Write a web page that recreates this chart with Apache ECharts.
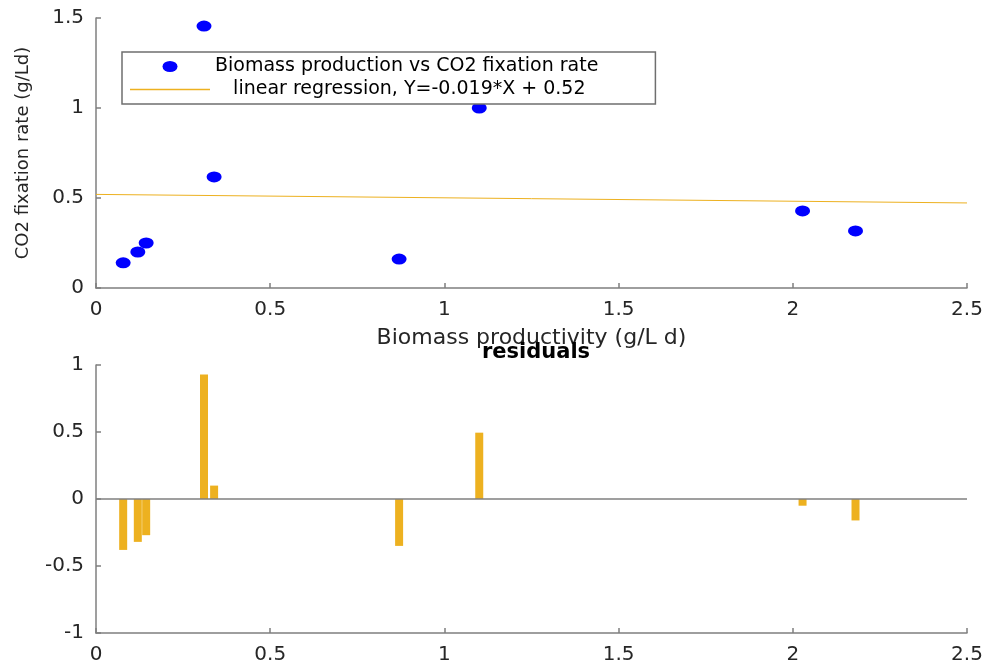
<!DOCTYPE html>
<html>
<head>
<meta charset="utf-8">
<script src="https://cdn.jsdelivr.net/npm/echarts@6/dist/echarts.min.js"></script>
<style>
  html, body { margin: 0; padding: 0; background: #fff; }
  #main { width: 988px; height: 665px; }
</style>
</head>
<body>
<div id="main"></div>
<script>
// data
const biomass = [0.078, 0.12, 0.144, 0.31, 0.339, 0.87, 1.10, 2.028, 2.18];
const co2Rate = [0.14, 0.20, 0.25, 1.455, 0.617, 0.161, 1.00, 0.428, 0.317];
const residuals = [-0.38, -0.32, -0.27, 0.93, 0.10, -0.35, 0.495, -0.05, -0.16];
const fitX = [0, 2.5];
const fitY = [0.52, 0.4725];

const scatterName = 'Biomass production vs CO2 fixation rate';
const lineName = 'linear regression, Y=-0.019*X + 0.52';

const axisGray = '#7f7f7f';
const textColor = '#262626';
const font = 'DejaVu Sans';
const yellow = '#EDB120';

function valueAxis(gridIndex, min, max, interval, extra) {
    return Object.assign({
        type: 'value',
        gridIndex: gridIndex,
        min: min,
        max: max,
        interval: interval,
        axisLine: { show: true, onZero: false, lineStyle: { color: axisGray, width: 1.5 } },
        axisTick: { show: true, inside: true, length: 5, lineStyle: { color: axisGray, width: 1.5 } },
        axisLabel: { color: textColor, fontFamily: font, fontSize: 20, margin: 12 },
        splitLine: { show: false }
    }, extra || {});
}

const chart = echarts.init(document.getElementById('main'), null, { renderer: 'canvas' });

const option = {
    backgroundColor: '#fff',
    animation: false,
    textStyle: { fontFamily: font },
    title: {
        text: 'residuals',
        left: 531,
        top: 337,
        textAlign: 'center',
        textStyle: { fontFamily: font, fontSize: 21, fontWeight: 'bold', color: '#000' }
    },
    grid: [
        { left: 96, right: 21, top: 18, height: 270 },
        { left: 96, right: 21, top: 365, height: 270 }
    ],
    xAxis: [
        valueAxis(0, 0, 2.5, 0.5, {
            name: 'Biomass productivity (g/L d)',
            nameLocation: 'middle',
            nameGap: 39,
            nameTextStyle: { color: textColor, fontFamily: font, fontSize: 22 }
        }),
        valueAxis(1, 0, 2.5, 0.5)
    ],
    yAxis: [
        valueAxis(0, 0, 1.5, 0.5, {
            name: 'CO2 fixation rate (g/Ld)',
            nameLocation: 'middle',
            nameGap: 64,
            nameTextStyle: { color: textColor, fontFamily: font, fontSize: 18 }
        }),
        valueAxis(1, -1, 1, 0.5)
    ],
    legend: {
        orient: 'vertical',
        left: 122,
        top: 52,
        padding: [5, 57, 5, 8],
        itemWidth: 80,
        itemHeight: 11,
        itemGap: 4,
        backgroundColor: '#fff',
        borderColor: '#6f6f6f',
        borderWidth: 1.5,
        borderRadius: 0,
        textStyle: { color: '#000', fontFamily: font, fontSize: 19 },
        formatter: function (name) {
            return name === lineName ? '   ' + name : name;
        },
        data: [
            {
                name: scatterName,
                icon: 'path://M0,5.5 A7.5,5.5 0 1,0 15,5.5 A7.5,5.5 0 1,0 0,5.5 Z',
                itemStyle: { color: '#0000ff' }
            },
            {
                name: lineName,
                icon: 'path://M0,0 L80,0 L80,1.5 L0,1.5 Z',
                itemStyle: { color: yellow, borderWidth: 0 }
            }
        ]
    },
    series: [
        {
            name: lineName,
            type: 'line',
            xAxisIndex: 0,
            yAxisIndex: 0,
            data: fitX.map((x, i) => [x, fitY[i]]),
            symbol: 'none',
            lineStyle: { color: yellow, width: 1 },
            itemStyle: { color: yellow },
            z: 2
        },
        {
            name: scatterName,
            type: 'scatter',
            xAxisIndex: 0,
            yAxisIndex: 0,
            data: biomass.map((x, i) => [x, co2Rate[i]]),
            symbol: 'circle',
            symbolSize: [15, 11],
            itemStyle: { color: '#0000ff', opacity: 1 },
            z: 3
        },
        {
            name: 'residuals',
            type: 'bar',
            xAxisIndex: 1,
            yAxisIndex: 1,
            data: biomass.map((x, i) => [x, residuals[i]]),
            barWidth: 8,
            itemStyle: { color: yellow },
            markLine: {
                silent: true,
                symbol: 'none',
                label: { show: false },
                lineStyle: { color: axisGray, width: 1.5, type: 'solid' },
                data: [{ yAxis: 0 }]
            },
            z: 2
        }
    ]
};

chart.setOption(option);
window.addEventListener('resize', function () {
    chart.resize();
});
</script>
</body>
</html>
